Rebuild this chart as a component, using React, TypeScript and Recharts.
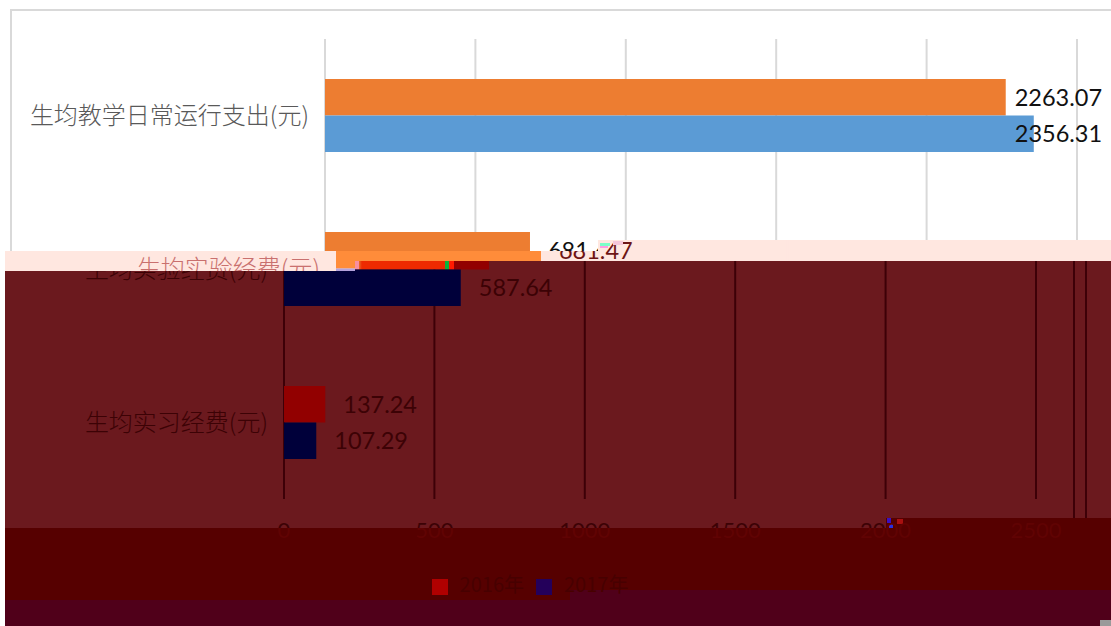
import { BarChart, Bar, XAxis, YAxis, CartesianGrid, Cell, LabelList, Legend } from "recharts";

const categories = ["生均教学日常运行支出(元)", "生均实验经费(元)", "生均实习经费(元)"];
const series2016 = [2263.07, 681.47, 137.24];
const series2017 = [2356.31, 587.64, 107.29];
const seriesNames = ["2016年", "2017年"];
const xTicks = [0, 500, 1000, 1500, 2000, 2500];

const rows = categories.map((name, i) => ({ name, a: series2016[i], b: series2017[i] }));

const W = 1111;
const H = 626;
const CJK = '"Noto Sans CJK SC", "Noto Sans", sans-serif';

type Look = {
  a: string; b: string; grid: string; cat: string; value: string; tick: string;
  gradient?: boolean; legend?: boolean;
};

const topLook: Look = { a: "#ed7d31", b: "#5b9bd5", grid: "#d9d9d9", cat: "#595959", value: "#111111", tick: "#595959" };
const stripLook: Look = { a: "#ff8c3a", b: "#b4a2dc", grid: "#ffe7e0", cat: "#c9706e", value: "#6e1414", tick: "#c9706e" };
const darkLook: Look = { a: "#920000", b: "#00003a", grid: "#3d0007", cat: "#3c0205", value: "#3c0205", tick: "#3c0205", gradient: true };
const bandLook: Look = { a: "#b00000", b: "#24005a", grid: "none", cat: "none", value: "none", tick: "#600303", legend: true };

// label gap next to the bar end; the first row was placed by hand in the original
const labelGap = (series: number, row: number) => (row === 0 ? (series === 0 ? 9 : -19) : 18);

function valueLabel(series: number, look: Look) {
  // eslint-disable-next-line @typescript-eslint/no-explicit-any
  return (props: any) => {
    const { x, y, width, height, value, index } = props;
    return (
      <text x={x + width + labelGap(series, index)} y={y + height / 2 - 0.5} dominantBaseline="central"
        fill={look.value} style={{ fontFamily: "Lato", fontSize: 23.5 }}>
        {Number(value).toFixed(2)}
      </text>
    );
  };
}

function Panel({ dx, dy, look }: { dx: number; dy: number; look: Look }) {
  return (
    <div style={{ position: "absolute", left: dx, top: dy }}>
      <BarChart width={W} height={H} data={rows} layout="vertical" barSize={36.5} barGap={0}
        margin={{ top: 39, right: 34, bottom: 0, left: 0 }}>
        {look.gradient && (
          <defs>
            <linearGradient id="torn" x1="0" y1="0" x2="1" y2="0">
              <stop offset="0.34" stopColor="#ff8c3a" />
              <stop offset="0.345" stopColor="#f78fa0" />
              <stop offset="0.365" stopColor="#f78fa0" />
              <stop offset="0.365" stopColor="#e8702a" />
              <stop offset="0.38" stopColor="#ee2a00" />
              <stop offset="0.785" stopColor="#ee2a00" />
              <stop offset="0.785" stopColor="#0bb53a" />
              <stop offset="0.805" stopColor="#0bb53a" />
              <stop offset="0.805" stopColor="#ff1a00" />
              <stop offset="0.83" stopColor="#ff1a00" />
              <stop offset="0.83" stopColor="#920000" />
              <stop offset="1" stopColor="#920000" />
            </linearGradient>
          </defs>
        )}
        <CartesianGrid horizontal={false} stroke={look.grid} strokeWidth={2} />
        <XAxis type="number" domain={[0, 2500]} ticks={xTicks} height={128} axisLine={false} tickLine={false}
          tickMargin={17} tick={{ fill: look.tick, fontSize: 22, fontFamily: "Lato" }} />
        <YAxis type="category" dataKey="name" width={325} axisLine={false} tickLine={false} tickMargin={10}
          tick={{ fill: look.cat, fontSize: 24, fontFamily: CJK, fontWeight: 300 }} />
        {look.legend && (
          <Legend layout="horizontal" align="center" verticalAlign="middle" iconType="square" iconSize={16}
            wrapperStyle={{ top: 568, left: 432 - dx - 26, width: 260, fontFamily: CJK, fontSize: 20 }}
            // eslint-disable-next-line @typescript-eslint/no-explicit-any
            formatter={(v: any) => <span style={{ color: "#470000", marginLeft: 8, marginRight: 2 }}>{v}</span>} />
        )}
        <Bar dataKey="a" name={seriesNames[0]} fill={look.a} isAnimationActive={false}>
          {look.gradient && rows.map((_, i) => <Cell key={i} fill={i === 1 ? "url(#torn)" : look.a} />)}
          <LabelList dataKey="a" content={valueLabel(0, look)} />
        </Bar>
        <Bar dataKey="b" name={seriesNames[1]} fill={look.b} isAnimationActive={false}>
          <LabelList dataKey="b" content={valueLabel(1, look)} />
        </Bar>
      </BarChart>
    </div>
  );
}

const block = (x: number, y: number, w: number, h: number, c: string) => (
  <div key={`${x}-${y}-${c}`} style={{ position: "absolute", left: x, top: y, width: w, height: h, background: c }} />
);

const clipped = (points: number[][], background: string) => ({
  position: "absolute" as const, inset: 0, background,
  clipPath: `polygon(${points.map(([x, y]) => `${x}px ${y}px`).join(",")})`,
});

export default function App() {
  return (
    <div style={{ position: "absolute", left: 0, top: 0, width: W, height: H, overflow: "hidden", background: "#fff" }}>
      {/* frame of the original chart */}
      {block(10, 9, W - 10, 2, "#d9d9d9")}
      {block(10, 9, 2, 242, "#d9d9d9")}
      <Panel dx={0} dy={0} look={topLook} />

      {/* torn light strip */}
      <div style={clipped([[5, 251], [598, 251], [598, 240], [W, 240], [W, 271], [5, 271]], "#ffe7e0")}>
        <Panel dx={11} dy={0} look={stripLook} />
        {block(600, 243, 10, 3, "#7dffc8")}
        {block(600, 246, 8, 2, "#ff9ce0")}
        {block(613, 241, 10, 4, "#f5c6d8")}
      </div>

      {/* dark shifted copy */}
      <div style={clipped([[5, 271], [355, 271], [355, 261], [W, 261], [W, 518], [886, 518], [886, 528], [5, 528]], "#6b191e")}>
        <Panel dx={-41} dy={1} look={darkLook} />
        {block(1073, 261, 2, 257, "#3d0007")}
        {block(1085, 261, 2, 257, "#3d0007")}
      </div>

      {/* bottom bands */}
      <div style={clipped([[5, 528], [886, 528], [886, 518], [W, 518], [W, H], [5, H]], "#560000")}>
        {block(5, 600, W - 5, 26, "#50001a")}
        {block(570, 590, W - 570, 10, "#50001a")}
        {block(1100, 620, 11, 6, "#9a9a9a")}
        {block(887, 518, 4, 5, "#3a10c0")}
        {block(889, 524, 4, 4, "#2a30e0")}
        {block(897, 519, 6, 5, "#a81010")}
        <Panel dx={-41} dy={1} look={bandLook} />
      </div>
    </div>
  );
}
